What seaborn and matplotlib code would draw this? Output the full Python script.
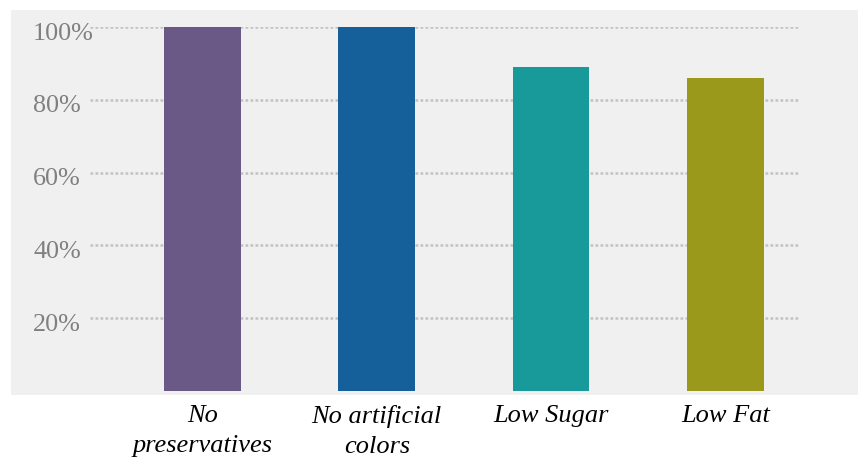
import matplotlib
matplotlib.use("Agg")
import matplotlib.pyplot as plt
import matplotlib.transforms as mtransforms
from matplotlib.patches import Rectangle
import pandas as pd
import seaborn as sns

categories = ["No\npreservatives", "No artificial\ncolors", "Low Sugar", "Low Fat"]
shares = [100, 100, 89, 86]
colors = ["#6a5886", "#15609b", "#18999a", "#9a991c"]
tick_values = [20, 40, 60, 80, 100]
tick_labels = ["20%", "40%", "60%", "80%", "100%"]

df = pd.DataFrame({"claim": categories, "share": shares})

sns.set_theme(style="white")
plt.rcParams["font.family"] = ["Liberation Serif", "DejaVu Serif"]

W, H = 858, 458
fig = plt.figure(figsize=(W / 100, H / 100), dpi=100)
fig.patch.set_facecolor("white")

# light grey panel behind the plot
fig.patches.append(Rectangle((11 / W, (H - 395) / H), (W - 11) / W, (395 - 10) / H,
                             transform=fig.transFigure, facecolor="#f0f0f0",
                             edgecolor="none", zorder=-10))

ax = fig.add_axes([90 / W, (H - 391) / H, 710 / W, (391 - 27) / H])
ax.patch.set_alpha(0)

sns.barplot(data=df, x="claim", y="share", hue="claim", palette=colors,
            width=0.44, legend=False, saturation=1, linewidth=0, ax=ax, zorder=3)

ax.set_xlim(-0.645, 3.428)
ax.set_ylim(0, 100)
ax.set_yticks(tick_values)
ax.set_yticklabels(tick_labels)
ax.set_xlabel("")
ax.set_ylabel("")

for v in tick_values:
    ax.axhline(v, color="#c2c2c2", lw=1.8, ls=(0, (1.1, 0.9)), zorder=1)

for s in ax.spines.values():
    s.set_visible(False)

ax.tick_params(axis="y", length=0, pad=41, labelsize=18.8, labelcolor="#808080")
ax.tick_params(axis="x", length=0, pad=10, labelsize=19, labelcolor="black")

offset = mtransforms.ScaledTranslation(0, -3 / 72, fig.dpi_scale_trans)
for lab in ax.get_yticklabels():
    lab.set_horizontalalignment("left")
    lab.set_transform(lab.get_transform() + offset)

for lab in ax.get_xticklabels():
    lab.set_fontstyle("italic")
    lab.set_linespacing(1.5)

fig.savefig("out.png", dpi=100, facecolor=fig.get_facecolor())
